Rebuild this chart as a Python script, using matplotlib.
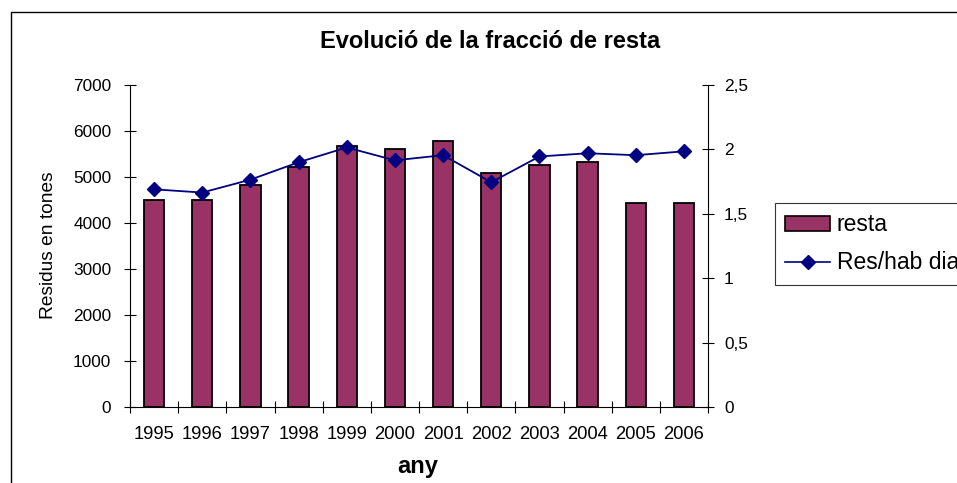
import matplotlib
matplotlib.use("Agg")
import matplotlib.pyplot as plt
from matplotlib.patches import Rectangle
from matplotlib.lines import Line2D
import numpy as np

plt.rcParams['font.family'] = ['Liberation Sans', 'DejaVu Sans']

years = ['1995', '1996', '1997', '1998', '1999', '2000', '2001', '2002', '2003', '2004', '2005', '2006']
resta = [4510, 4505, 4820, 5210, 5680, 5600, 5790, 5080, 5250, 5330, 4430, 4430]
res_hab_dia = [1.69, 1.665, 1.765, 1.90, 2.015, 1.915, 1.955, 1.745, 1.945, 1.97, 1.955, 1.985]
left_ticks = [0, 1000, 2000, 3000, 4000, 5000, 6000, 7000]
right_ticks = [0, 0.5, 1, 1.5, 2, 2.5]
right_labels = ['0', '0,5', '1', '1,5', '2', '2,5']

W, H = 957, 483
fig = plt.figure(figsize=(W / 100, H / 100), dpi=100)

ax = fig.add_axes([130 / W, 1 - 407 / H, (708 - 130) / W, (407 - 85) / H])
x = np.arange(len(years))
ax.bar(x, resta, width=0.42, color='#993366', edgecolor='black', linewidth=1.3, zorder=2)
ax.set_xlim(-0.5, len(years) - 0.5)
ax.set_ylim(0, 7000)
ax.set_yticks(left_ticks)
ax.set_yticklabels([str(v) for v in left_ticks])
ax.set_xticks(x)
ax.set_xticklabels(years)
ax.set_xticks(np.arange(-0.5, len(years) + 0.5, 1), minor=True)
ax.tick_params(axis='x', which='major', length=0, pad=14, labelsize=13.2)
ax.tick_params(axis='x', which='minor', length=8, direction='inout', width=0.8)
ax.tick_params(axis='y', length=9, direction='inout', width=0.8, labelsize=12.4, pad=9)
for s in ['top', 'right']:
    ax.spines[s].set_visible(False)
ax.spines['left'].set_linewidth(0.8)
ax.spines['bottom'].set_linewidth(0.8)

ax2 = ax.twinx()
ax2.plot(x, res_hab_dia, color='#000080', marker='D', markersize=7, linewidth=1.3, zorder=3)
ax2.set_ylim(0, 2.5)
ax2.set_yticks(right_ticks)
ax2.set_yticklabels(right_labels)
ax2.tick_params(axis='y', length=9, direction='inout', width=0.8, labelsize=12.4, pad=7)
for s in ['top', 'left', 'bottom']:
    ax2.spines[s].set_visible(False)
ax2.spines['right'].set_linewidth(0.8)

fig.text(490 / W, 1 - 42 / H, 'Evolució de la fracció de resta', ha='center', va='center',
         fontsize=17, fontweight='bold')
fig.text(49 / W, 1 - 245 / H, 'Residus en tones', ha='center', va='center',
         rotation=90, fontsize=13.8)
fig.text(418 / W, 1 - 467 / H, 'any', ha='center', va='center',
         fontsize=17, fontweight='bold')

# outer chart border
fig.patches.append(Rectangle((11 / W, -0.1), 1.2, 1 - 12 / H + 0.1, transform=fig.transFigure,
                             fill=False, edgecolor='black', linewidth=1.0, clip_on=False))

handles = [Rectangle((0, 0), 1, 1, facecolor='#993366', edgecolor='black', linewidth=1.2),
           Line2D([0], [0], color='#000080', marker='D', markersize=7, linewidth=1.2)]
leg = fig.legend(handles, ['resta', 'Res/hab dia'], loc='upper left',
                 bbox_to_anchor=(775 / W, 1 - 203 / H), borderaxespad=0, fontsize=16.5,
                 frameon=True, fancybox=False, edgecolor='black', handlelength=1.95,
                 handleheight=0.6, borderpad=0.45, labelspacing=0.65, handletextpad=0.3)
leg.get_frame().set_linewidth(0.8)

fig.savefig('out.png', dpi=100)
